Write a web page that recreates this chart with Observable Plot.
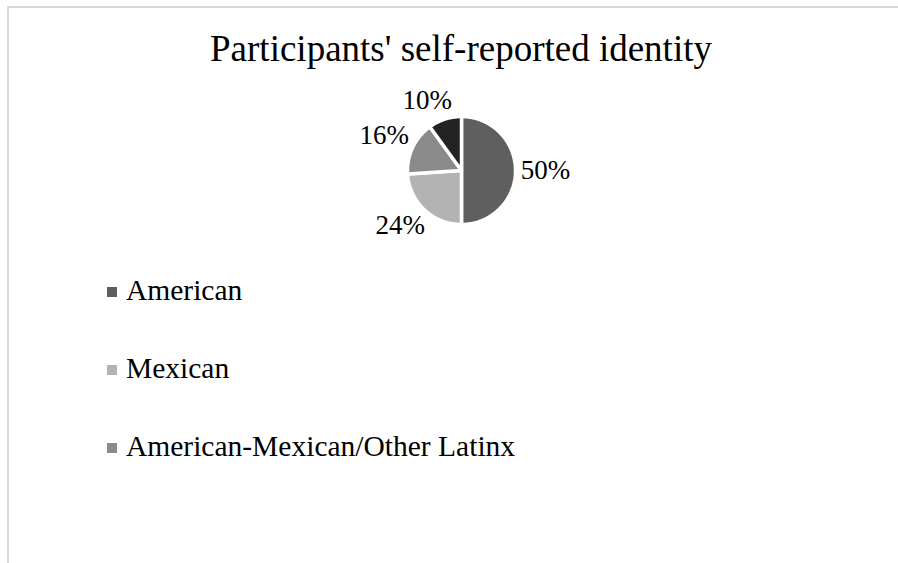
<!DOCTYPE html>
<html>
<head>
<meta charset="utf-8">
<script src="https://cdn.jsdelivr.net/npm/d3@7"></script>
<script src="https://cdn.jsdelivr.net/npm/@observablehq/plot@0.6"></script>
<style>
  html, body { margin: 0; padding: 0; background: #fff; }
  body { width: 898px; height: 563px; overflow: hidden; position: relative; font-family: "Liberation Serif", "Times New Roman", serif; }
  #frame { position: absolute; left: 7px; top: 6px; width: 900px; height: 600px; border-top: 2px solid #d9d9d9; border-left: 2px solid #d9d9d9; }
  #title { position: absolute; left: 0; top: 30px; width: 922px; text-align: center; font-size: 37px; line-height: 1; color: #000; white-space: nowrap; }
  #chart { position: absolute; left: 0; top: 0; }
  #legend { position: absolute; left: 107px; top: 251px; }
  .item { font-size: 29.5px; line-height: 78px; height: 78px; color: #000; white-space: nowrap; }
  .sw { display: inline-block; width: 10px; height: 10px; margin-right: 9px; margin-bottom: 3px; }
</style>
</head>
<body>
<div id="frame"></div>
<div id="title">Participants' self-reported identity</div>
<div id="chart"></div>
<div id="legend"></div>
<script>
const categories = ["American", "Mexican", "American-Mexican/Other Latinx", "Other"];
const shares = [50, 24, 16, 10];
const colors = ["#5f5f5f", "#b3b3b3", "#8a8a8a", "#232323"];
const legendCategories = ["American", "Mexican", "American-Mexican/Other Latinx"];

// Build slice outlines (unit circle, clockwise from 12 o'clock) from the shares
const R = 54; // pixel radius of the pie
const cx = 461, cy = 170;
const total = d3.sum(shares);
const slicePts = [];
const labels = [];
let acc = 0;
categories.forEach((cat, i) => {
  const a0 = acc / total * 2 * Math.PI;
  acc += shares[i];
  const a1 = acc / total * 2 * Math.PI;
  slicePts.push({cat, x: 0, y: 0});
  const n = Math.max(2, Math.ceil((a1 - a0) / (Math.PI / 180)));
  for (let k = 0; k <= n; k++) {
    const a = a0 + (a1 - a0) * k / n;
    slicePts.push({cat, x: Math.sin(a), y: Math.cos(a)});
  }
  slicePts.push({cat, x: 0, y: 0});
  const mid = (a0 + a1) / 2;
  const ux = Math.sin(mid), uy = Math.cos(mid);
  // outside-end label: gap beyond the rim plus an offset for the text box
  const gap = 6 / R, halfW = 24 / R, halfH = 13 / R;
  const sx = Math.abs(ux) < 1e-6 ? 0 : Math.sign(ux);
  const sy = Math.abs(uy) < 1e-6 ? 0 : Math.sign(uy);
  labels.push({
    cat, share: shares[i],
    lx: ux * (1 + gap) + 0.5 * halfW * (ux + sx),
    ly: uy * (1 + gap) + 0.5 * halfH * (uy + sy)
  });
});

const plot = Plot.plot({
  width: 898,
  height: 260,
  margin: 0,
  x: {domain: [-1, 1], range: [cx - R, cx + R], axis: null},
  y: {domain: [-1, 1], range: [cy + R, cy - R], axis: null},
  color: {domain: categories, range: colors},
  marks: [
    Plot.line(slicePts, {x: "x", y: "y", z: "cat", fill: "cat", stroke: "white", strokeWidth: 3.5, strokeLinejoin: "miter"}),
    Plot.text(labels, {
      x: "lx",
      y: "ly",
      text: d => d.share + "%",
      fontSize: 27,
      fontFamily: "Liberation Serif",
      fill: "black",
      textAnchor: "middle",
      lineAnchor: "middle"
    })
  ]
});
document.getElementById("chart").appendChild(plot);

const lg = document.getElementById("legend");
legendCategories.forEach(cat => {
  const row = document.createElement("div");
  row.className = "item";
  const sw = document.createElement("span");
  sw.className = "sw";
  sw.style.background = colors[categories.indexOf(cat)];
  row.appendChild(sw);
  row.appendChild(document.createTextNode(cat));
  lg.appendChild(row);
});
</script>
</body>
</html>
